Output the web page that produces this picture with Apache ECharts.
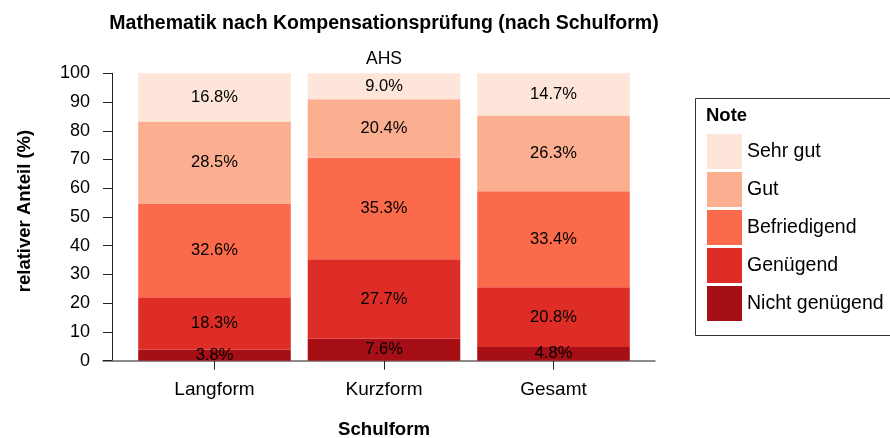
<!DOCTYPE html>
<html>
<head>
<meta charset="utf-8">
<script src="https://cdn.jsdelivr.net/npm/echarts@6/dist/echarts.min.js"></script>
<style>
  html, body { margin: 0; padding: 0; background: #fff; }
  #main { width: 890px; height: 438px; }
</style>
</head>
<body>
<div id="main"></div>
<script>
var categories = ['Langform', 'Kurzform', 'Gesamt'];
var noten = ['Nicht genügend', 'Genügend', 'Befriedigend', 'Gut', 'Sehr gut'];
var nichtGenuegend = [3.8, 7.6, 4.8];
var genuegend = [18.3, 27.7, 20.8];
var befriedigend = [32.6, 35.3, 33.4];
var gut = [28.5, 20.4, 26.3];
var sehrGut = [16.8, 9.0, 14.7];

var colors = ['#A50F15', '#DE2D26', '#FB6A4A', '#FCAE91', '#FEE5D9'];
var values = [nichtGenuegend, genuegend, befriedigend, gut, sehrGut];
var font = 'Liberation Sans, Arial, Helvetica, sans-serif';

var chartDom = document.getElementById('main');
var myChart = echarts.init(chartDom);
var option;

var series = noten.map(function (name, i) {
    return {
        name: name,
        type: 'bar',
        stack: 'note',
        barWidth: '90%',
        xAxisIndex: 0,
        yAxisIndex: 0,
        itemStyle: { color: colors[i] },
        label: {
            show: true,
            position: 'inside',
            color: '#000',
            fontFamily: font,
            fontSize: 16.5,
            formatter: '{c}%'
        },
        emphasis: { disabled: true },
        data: values[i].map(function (v) { return v.toFixed(1); })
    };
});

option = {
    animation: false,
    textStyle: { fontFamily: font },
    title: [
        {
            text: 'Mathematik nach Kompensationsprüfung (nach Schulform)',
            left: 379, top: 9, textAlign: 'center',
            textStyle: { fontSize: 19.5, fontWeight: 'bold', color: '#000', fontFamily: font }
        },
        {
            text: 'AHS',
            left: 379, top: 45, textAlign: 'center',
            textStyle: { fontSize: 17.5, fontWeight: 'normal', color: '#000', fontFamily: font }
        }
    ],
    // grid 0 holds the bars, grid 1 only carries the longer x axis line
    grid: [
        { left: 129.75, right: 251.75, top: 73.3, bottom: 77.3, outerBoundsMode: 'none' },
        { left: 103, right: 235, top: 73.3, bottom: 77.3, outerBoundsMode: 'none' }
    ],
    xAxis: [
        {
            type: 'category',
            gridIndex: 0,
            data: categories,
            name: 'Schulform',
            nameLocation: 'middle',
            nameGap: 60,
            nameTextStyle: { fontSize: 18.6, fontWeight: 'bold', color: '#000' },
            axisLine: { show: false },
            axisTick: { show: true, alignWithLabel: true, length: 9, lineStyle: { color: '#222' } },
            axisLabel: { margin: 20, fontSize: 19, color: '#000' }
        },
        {
            type: 'value',
            gridIndex: 1,
            min: 0,
            max: 1,
            axisLine: { show: true, lineStyle: { color: '#666', width: 1.5 } },
            axisTick: { show: false },
            axisLabel: { show: false },
            splitLine: { show: false }
        }
    ],
    yAxis: [
        {
            type: 'value',
            gridIndex: 0,
            min: 0,
            max: 100,
            interval: 10,
            offset: 17.75,
            name: 'relativer Anteil (%)',
            nameLocation: 'middle',
            nameGap: 78,
            nameTextStyle: { fontSize: 18.5, fontWeight: 'bold', color: '#000', padding: [0, 0, 0, 12] },
            splitLine: { show: false },
            axisLine: { show: true, lineStyle: { color: '#222' } },
            axisTick: { show: true, length: 9, lineStyle: { color: '#222' } },
            axisLabel: { margin: 22, fontSize: 18, color: '#000' }
        },
        {
            type: 'value',
            gridIndex: 1,
            min: 0,
            max: 100,
            show: false
        }
    ],
    legend: {
        orient: 'vertical',
        left: 707,
        top: 134,
        padding: 0,
        itemWidth: 35,
        itemHeight: 35,
        itemGap: 3,
        icon: 'rect',
        data: noten.slice().reverse(),
        textStyle: { fontSize: 19.5, color: '#000', fontFamily: font },
        selectedMode: false
    },
    graphic: {
        elements: [
            {
                type: 'rect',
                left: 693, top: 96,
                shape: { width: 195, height: 237 },
                style: { fill: 'none', stroke: '#333', lineWidth: 1 }
            },
            {
                type: 'text',
                left: 706, top: 106,
                style: { text: 'Note', font: 'bold 18.5px ' + font, fill: '#000' }
            }
        ]
    },
    series: series
};

option && myChart.setOption(option);
</script>
</body>
</html>
